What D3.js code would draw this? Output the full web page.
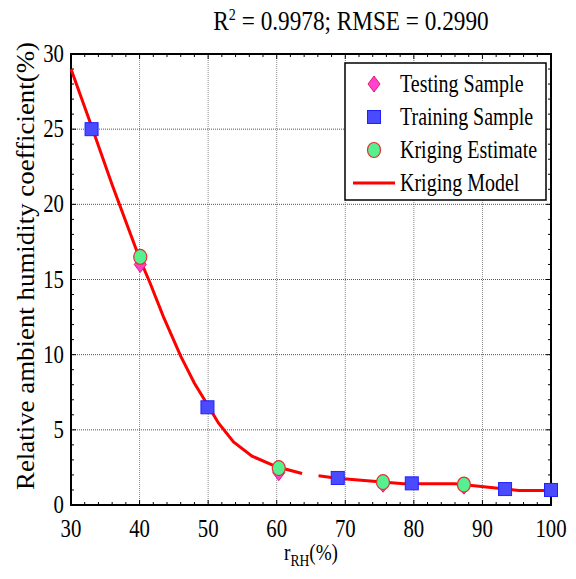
<!DOCTYPE html>
<html>
<head>
<meta charset="utf-8">
<script src="https://cdn.jsdelivr.net/npm/d3@7"></script>
<style>
  body { margin: 0; background: #fff; }
</style>
</head>
<body>
<div id="chart"></div>
<script>
// data
const trainX = [33, 49.9, 68.9, 79.7, 93.3, 100];
const trainY = [25.0, 6.5, 1.8, 1.44, 1.06, 1.0];
const testX = [40.1, 60.3, 75.5, 87.3];
const testY = [16.0, 2.15, 1.38, 1.25];
const estX = [40.1, 60.3, 75.5, 87.3];
const estY = [16.5, 2.45, 1.52, 1.36];
// kriging model curve, drawn in two pieces (gap near 64-66)
const modelX1 = [30, 33, 36, 40, 41.5, 43.5, 46, 48, 50, 51.5, 53.7, 56.4, 60, 63.7];
const modelY1 = [29.0, 25.2, 21.3, 16.4, 14.8, 12.5, 9.9, 8.1, 6.6, 5.46, 4.2, 3.25, 2.54, 2.1];
const modelX2 = [66.1, 68.8, 78.5, 86, 95.3, 100];
const modelY2 = [1.95, 1.78, 1.42, 1.42, 0.97, 0.97];
const xTicks = [30, 40, 50, 60, 70, 80, 90, 100];
const yTicks = [0, 5, 10, 15, 20, 25, 30];

const W = 576, H = 579;
const margin = {top: 54, right: 25, bottom: 74, left: 71};
const width = W - margin.left - margin.right;
const height = H - margin.top - margin.bottom;
const squash = 0.8;
const FONT = "'Liberation Serif', 'Times New Roman', Times, serif";

const svg = d3.select("#chart").append("svg")
    .attr("width", W)
    .attr("height", H)
    .attr("font-family", FONT);

const g = svg.append("g")
    .attr("transform", "translate(" + margin.left + "," + margin.top + ")");

const x = d3.scaleLinear().domain([30, 100]).range([0, width]);
const y = d3.scaleLinear().domain([0, 30]).range([height, 0]);

// grid
g.append("g").selectAll("line")
    .data(xTicks.slice(1, -1))
    .join("line")
    .attr("x1", d => x(d)).attr("x2", d => x(d))
    .attr("y1", 0).attr("y2", height)
    .attr("stroke", "#888").attr("stroke-dasharray", "1,1");
g.append("g").selectAll("line")
    .data(yTicks.slice(1, -1))
    .join("line")
    .attr("y1", d => y(d)).attr("y2", d => y(d))
    .attr("x1", 0).attr("x2", width)
    .attr("stroke", "#555").attr("stroke-dasharray", "1,1");

// inward ticks on all four sides
const xMinor = d3.range(32, 100, 2).filter(v => v % 10 != 0);
const yMinor = d3.range(1, 30, 1).filter(v => v % 5 != 0);
function hTicks(vals, len) {
  vals.forEach(v => {
    g.append("line").attr("x1", x(v)).attr("x2", x(v)).attr("y1", height).attr("y2", height - len).attr("stroke", "#000");
    g.append("line").attr("x1", x(v)).attr("x2", x(v)).attr("y1", 0).attr("y2", len).attr("stroke", "#000");
  });
}
function vTicks(vals, len) {
  vals.forEach(v => {
    g.append("line").attr("y1", y(v)).attr("y2", y(v)).attr("x1", 0).attr("x2", len).attr("stroke", "#000");
    g.append("line").attr("y1", y(v)).attr("y2", y(v)).attr("x1", width).attr("x2", width - len).attr("stroke", "#000");
  });
}
hTicks(xMinor, 3); hTicks(xTicks, 5);
vTicks(yMinor, 3); vTicks(yTicks, 5);

// frame
g.append("rect").attr("width", width).attr("height", height)
    .attr("fill", "none").attr("stroke", "#000").attr("stroke-width", 2);

// tick labels
function label(px, py, txt, anchor, size) {
  return svg.append("g")
      .attr("transform", "translate(" + px + "," + py + ") scale(" + squash + ",1)")
      .append("text")
      .attr("text-anchor", anchor)
      .attr("font-size", size)
      .text(txt);
}
xTicks.forEach(v => label(margin.left + x(v), margin.top + height + 32, v, "middle", 26));
yTicks.forEach(v => label(margin.left - 7, margin.top + y(v) + 8, v, "end", 26));

// model line
const line = d3.line().x(d => x(d[0])).y(d => y(d[1]));
[[modelX1, modelY1], [modelX2, modelY2]].forEach(([xs, ys]) => {
  g.append("path")
      .attr("d", line(xs.map((v, i) => [v, ys[i]])))
      .attr("fill", "none")
      .attr("stroke", "#ff0000")
      .attr("stroke-width", 3);
});

// markers
const diamond = "M0,-8L6,0L0,8L-6,0Z";
function drawDiamond(sel) {
  sel.attr("d", diamond).attr("fill", "#ff40d0").attr("stroke", "#e0206a").attr("stroke-width", 1);
}
function drawSquare(sel) {
  sel.attr("x", -6.5).attr("y", -6.5).attr("width", 13).attr("height", 13)
      .attr("fill", "#4a4aff").attr("stroke", "#2020ff").attr("stroke-width", 1);
}
function drawCircle(sel) {
  sel.attr("rx", 6.5).attr("ry", 7.5)
      .attr("fill", "#55f08f").attr("stroke", "#e53030").attr("stroke-width", 1.2);
}

g.append("g").selectAll("path")
    .data(testX.map((v, i) => [v, testY[i]]))
    .join("path")
    .attr("transform", d => "translate(" + x(d[0]) + "," + y(d[1]) + ")")
    .call(drawDiamond);
g.append("g").selectAll("rect")
    .data(trainX.map((v, i) => [v, trainY[i]]))
    .join("rect")
    .attr("transform", d => "translate(" + x(d[0]) + "," + y(d[1]) + ")")
    .call(drawSquare);
g.append("g").selectAll("ellipse")
    .data(estX.map((v, i) => [v, estY[i]]))
    .join("ellipse")
    .attr("transform", d => "translate(" + x(d[0]) + "," + y(d[1]) + ")")
    .call(drawCircle);

// legend
const lg = svg.append("g").attr("transform", "translate(345,63)");
lg.append("rect").attr("width", 201).attr("height", 137)
    .attr("fill", "#fff").attr("stroke", "#000").attr("stroke-width", 1.5);
const entries = ["Testing Sample", "Training Sample", "Kriging Estimate", "Kriging Model"];
entries.forEach((name, i) => {
  const cy = 21 + i * 33;
  if (i == 0) lg.append("path").attr("transform", "translate(29," + cy + ")").call(drawDiamond);
  if (i == 1) lg.append("rect").attr("transform", "translate(29," + cy + ")").call(drawSquare);
  if (i == 2) lg.append("ellipse").attr("transform", "translate(29," + cy + ")").call(drawCircle);
  if (i == 3) lg.append("line").attr("x1", 8).attr("x2", 50).attr("y1", cy).attr("y2", cy)
      .attr("stroke", "#ff0000").attr("stroke-width", 3);
  lg.append("g").attr("transform", "translate(55," + (cy + 8) + ") scale(" + squash + ",1)")
      .append("text").attr("font-size", 25).text(name);
});

// title
const title = svg.append("g")
    .attr("transform", "translate(351,30) scale(0.83,1)")
    .append("text").attr("text-anchor", "middle").attr("font-size", 28);
title.append("tspan").text("R");
title.append("tspan").attr("dy", -10).attr("font-size", 17).text("2");
title.append("tspan").attr("dy", 10).text(" = 0.9978; RMSE = 0.2990");

// x axis title
const xt = svg.append("g")
    .attr("transform", "translate(" + (margin.left + width / 2) + ",560) scale(" + squash + ",1)")
    .append("text").attr("text-anchor", "middle").attr("font-size", 24);
xt.append("tspan").text("r");
xt.append("tspan").attr("dy", 6).attr("font-size", 17).text("RH");
xt.append("tspan").attr("dy", -6).text("(%)");

// y axis title
svg.append("g")
    .attr("transform", "translate(34,266) rotate(-90)")
    .append("text").attr("text-anchor", "middle").attr("font-size", 26)
    .attr("textLength", 448).attr("lengthAdjust", "spacingAndGlyphs")
    .text("Relative ambient humidity coefficient(%)");
</script>
</body>
</html>
